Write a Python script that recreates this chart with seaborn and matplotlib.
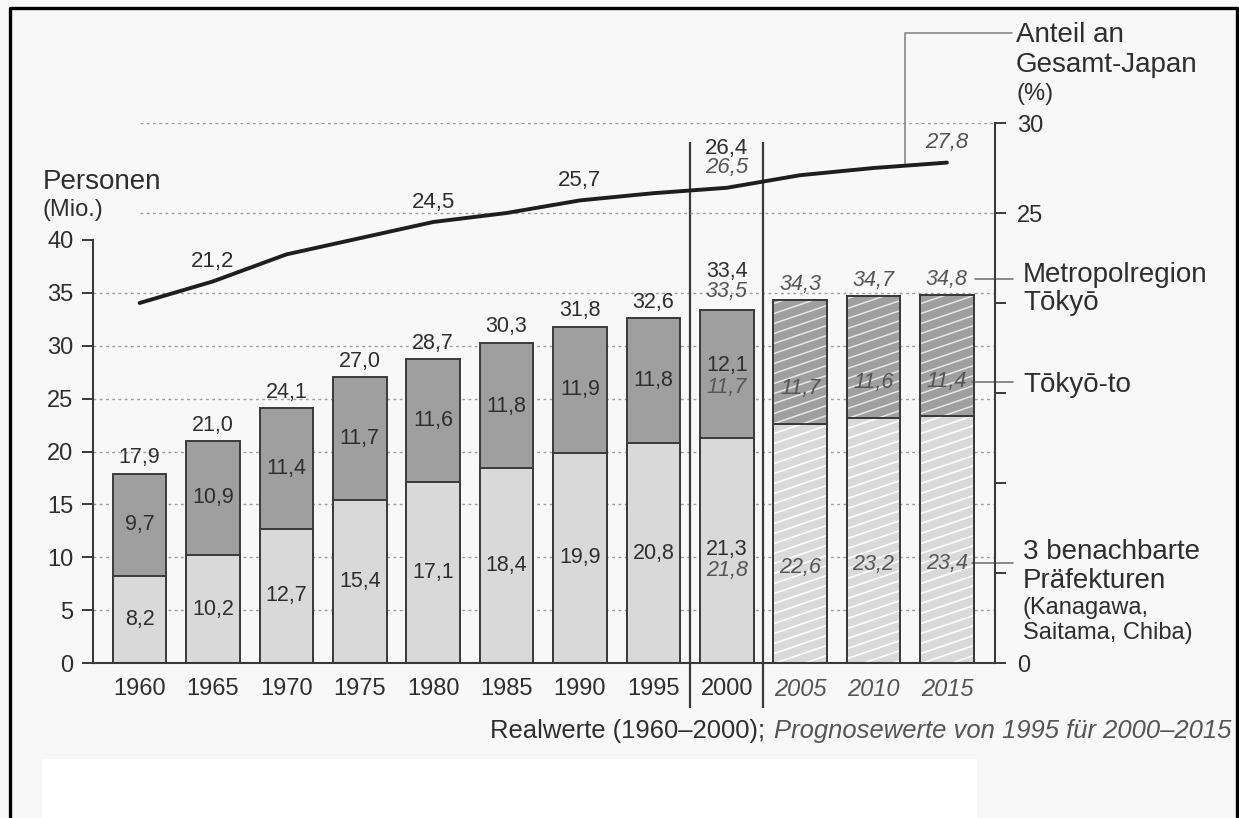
import matplotlib
matplotlib.use('Agg')
import matplotlib.pyplot as plt
import seaborn as sns
import pandas as pd
import numpy as np
from matplotlib.patches import Rectangle
from matplotlib.lines import Line2D
from matplotlib.collections import LineCollection

# ---------------- data ----------------
years = ['1960', '1965', '1970', '1975', '1980', '1985', '1990', '1995',
         '2000', '2005', '2010', '2015']
neighbors = [8.2, 10.2, 12.7, 15.4, 17.1, 18.4, 19.9, 20.8, 21.3, 22.6, 23.2, 23.4]
tokyo_to = [9.7, 10.9, 11.4, 11.7, 11.6, 11.8, 11.9, 11.8, 12.1, 11.7, 11.6, 11.4]
totals = [17.9, 21.0, 24.1, 27.0, 28.7, 30.3, 31.8, 32.6, 33.4, 34.3, 34.7, 34.8]
share = [20.0, 21.2, 22.7, 23.6, 24.5, 25.0, 25.7, 26.1, 26.4, 27.1, 27.5, 27.8]
forecast_2000_neighbors = 21.8
forecast_2000_tokyo_to = 11.7
forecast_2000_total = 33.5
forecast_2000_share = 26.5
share_labelled = [1, 4, 6, 8, 11]
first_forecast = 9   # 2005 onwards are forecast values
idx_2000 = 8

left_ticks = [0, 5, 10, 15, 20, 25, 30, 35, 40]
right_ticks = [0, 5, 10, 15, 20, 25, 30]
right_ticklabels = ['0', '', '', '', '', '25', '30']


def fmt(v):
    return f"{v:.1f}".replace('.', ',')


# ---------------- style ----------------
W, H = 1239, 818
BG = '#f8f8f8'
DARK = '#9f9f9f'
LIGHT = '#d9d9d9'
EDGE = '#3a3a3a'
TXT = '#2e2e2e'
ITC = '#555555'
GRID = '#9c9c9c'

sns.set_theme(style='white')
plt.rcParams['font.family'] = ['Liberation Sans', 'DejaVu Sans']
plt.rcParams['text.color'] = TXT

fig = plt.figure(figsize=(W / 100, H / 100), dpi=100, facecolor=BG)


def fx(px):
    return px / W


def fy(py):
    return 1 - py / H


# white box at the bottom and page border
fig.add_artist(Rectangle((fx(42), 0), (977 - 42) / W, (818 - 759) / H,
                         transform=fig.transFigure, facecolor='white',
                         edgecolor='none', zorder=0))
fig.add_artist(Line2D([fx(10), fx(10), fx(1237), fx(1237)],
                      [0, fy(8), fy(8), 0], transform=fig.transFigure,
                      color='black', lw=2.4, zorder=10))

ax = fig.add_axes([fx(93), fy(663), (995 - 93) / W, (663 - 123) / H])
ax.set_facecolor('none')
XMIN, XMAX = -0.635, 11.655
YTOP = (663 - 123) / 10.575

df = pd.DataFrame({'year': years, 'total': totals, 'neighbors': neighbors})

# gridlines (left scale)
ax.hlines([5, 10, 15, 20, 25, 30, 35], XMIN, XMAX, colors=GRID,
          linestyles=(0, (2, 2.5)), lw=1.0, zorder=1)

n0 = len(ax.patches)
sns.barplot(data=df, x='year', y='total', color=DARK, saturation=1, width=0.73,
            edgecolor=EDGE, linewidth=1.4, errorbar=None, ax=ax, zorder=2)
total_patches = ax.patches[n0:]
n1 = len(ax.patches)
sns.barplot(data=df, x='year', y='neighbors', color=LIGHT, saturation=1, width=0.73,
            edgecolor=EDGE, linewidth=1.4, errorbar=None, ax=ax, zorder=2)
neigh_patches = ax.patches[n1:]

# white hatching for the forecast bars
ax_w_px, ax_h_px = 995 - 93, 663 - 123
slope = 0.34 * ax_w_px / ax_h_px
step = 10.0 / ax_h_px
segs = [[(0, y0), (1, y0 + slope)] for y0 in np.arange(-0.8, 1.0, step)]
for plist in (total_patches, neigh_patches):
    for p in plist[first_forecast:]:
        lc = LineCollection(segs, colors='white', linewidths=1.1, alpha=0.75,
                            transform=ax.transAxes, zorder=2.5)
        ax.add_collection(lc)
        lc.set_clip_path(p)
        ax.add_patch(Rectangle(p.get_xy(), p.get_width(), p.get_height(),
                               fill=False, edgecolor=EDGE, lw=1.4, zorder=3))

ax.set_xlim(XMIN, XMAX)
ax.set_ylim(0, YTOP)
ax.set_xlabel('')
ax.set_ylabel('')

for s in ['top', 'right']:
    ax.spines[s].set_visible(False)
for s in ['left', 'bottom']:
    ax.spines[s].set_color(EDGE)
    ax.spines[s].set_linewidth(1.5)
ax.spines['left'].set_bounds(0, 40)

ax.set_yticks(left_ticks)
ax.set_yticklabels([str(t) for t in left_ticks])
ax.tick_params(axis='y', left=True, direction='out', length=8, width=1.4,
               color=EDGE, labelsize=17, labelcolor=TXT, pad=6)
ax.set_xticks(range(len(years)))
ax.set_xticklabels(years)
ax.tick_params(axis='x', bottom=False, length=0, labelsize=17,
               labelcolor=TXT, pad=11)
for i, lbl in enumerate(ax.get_xticklabels()):
    if i >= first_forecast:
        lbl.set_fontstyle('italic')
        lbl.set_color(ITC)

# separators between real / forecast values
ax.vlines([idx_2000 - 0.5, idx_2000 + 0.5], -4.26, 49.3, colors=EDGE, lw=1.6,
          clip_on=False, zorder=4)

# bar value labels
VS = 15.5
for i in range(len(years)):
    fc = i >= first_forecast
    st = 'italic' if fc else 'normal'
    col = ITC if fc else TXT
    mid_t = neighbors[i] + tokyo_to[i] / 2
    mid_n = neighbors[i] / 2
    if i == idx_2000:
        ax.text(i, totals[i] + 3.6, fmt(totals[i]), ha='center', va='center',
                fontsize=VS, color=TXT, zorder=5)
        ax.text(i, totals[i] + 1.7, fmt(forecast_2000_total), ha='center',
                va='center', fontsize=VS, color=ITC, style='italic', zorder=5)
        ax.text(i, mid_t + 0.75, fmt(tokyo_to[i]), ha='center', va='center',
                fontsize=VS, color=TXT, zorder=5)
        ax.text(i, mid_t - 1.3, fmt(forecast_2000_tokyo_to), ha='center',
                va='center', fontsize=VS, color=ITC, style='italic', zorder=5)
        ax.text(i, mid_n + 0.1, fmt(neighbors[i]), ha='center', va='center',
                fontsize=VS, color=TXT, zorder=5)
        ax.text(i, mid_n - 1.9, fmt(forecast_2000_neighbors), ha='center',
                va='center', fontsize=VS, color=ITC, style='italic', zorder=5)
        continue
    off_t = -2.5 if fc else 0.0
    off_n = -2.3 if fc else 0.0
    ax.text(i, totals[i] + 1.5, fmt(totals[i]), ha='center', va='center',
            fontsize=VS, color=col, style=st, zorder=5)
    ax.text(i, mid_t + off_t, fmt(tokyo_to[i]), ha='center', va='center',
            fontsize=VS, color=col, style=st, zorder=5)
    ax.text(i, mid_n + off_n, fmt(neighbors[i]), ha='center', va='center',
            fontsize=VS, color=col, style=st, zorder=5)

# leaders to right-hand labels (left scale)
ax.plot([11.38, 11.9], [36.3, 36.3], color='#777777', lw=1.2, clip_on=False)
ax.plot([11.34, 11.9], [26.57, 26.57], color='#777777', lw=1.2, clip_on=False)
ax.plot([11.34, 11.9], [9.46, 9.46], color='#777777', lw=1.2, clip_on=False)

# ---------------- share line (right scale) ----------------
ax2 = ax.twinx()
ax2.set_facecolor('none')
ax2.hlines([25, 30], 0, XMAX, colors=GRID, linestyles=(0, (2, 2.5)), lw=1.0,
           zorder=1)
sns.lineplot(x=np.arange(len(years)), y=share, ax=ax2, color='#1e1e1e',
             lw=2.8, zorder=6)
ax2.set_ylim(0, 30)
ax.set_xlim(XMIN, XMAX)
for s in ['top', 'left', 'bottom']:
    ax2.spines[s].set_visible(False)
ax2.spines['right'].set_color(EDGE)
ax2.spines['right'].set_linewidth(1.5)
ax2.set_yticks(right_ticks)
ax2.set_yticklabels(right_ticklabels)
ax2.tick_params(axis='y', right=True, direction='out', length=8, width=1.4,
                color=EDGE, labelsize=17, labelcolor=TXT, pad=8)
ax2.set_ylabel('')
ax2.set_xlabel('')

LS = 16
for i in share_labelled:
    fc = i >= first_forecast
    if i == idx_2000:
        ax2.text(i, share[i] + 2.2, fmt(share[i]), ha='center', va='center',
                 fontsize=LS, color=TXT, zorder=7)
        ax2.text(i, share[i] + 1.1, fmt(forecast_2000_share), ha='center',
                 va='center', fontsize=LS, color=ITC, style='italic', zorder=7)
        continue
    ax2.text(i, share[i] + 1.1, fmt(share[i]), ha='center', va='center',
             fontsize=LS, color=ITC if fc else TXT,
             style='italic' if fc else 'normal', zorder=7)

ax2.plot([10.43, 10.43, 11.88], [27.7, 35.0, 35.0], color='#888888', lw=1.2,
         clip_on=False)

# ---------------- free texts ----------------
def ftxt(px, py, s, size, **kw):
    fig.text(fx(px), fy(py), s, fontsize=size, ha='left', va='center',
             color=TXT, **kw)


ftxt(43, 182, 'Personen', 20)
ftxt(43, 210, '(Mio.)', 17)
ftxt(1016, 35, 'Anteil an', 20)
ftxt(1016, 65, 'Gesamt-Japan', 20)
ftxt(1016, 94, '(%)', 17)
ftxt(1023, 275, 'Metropolregion', 20)
ftxt(1023, 303, 'Tōkyō', 20)
ftxt(1023, 385, 'Tōkyō-to', 20)
ftxt(1023, 552, '3 benachbarte', 20)
ftxt(1023, 581, 'Präfekturen', 20)
ftxt(1023, 608, '(Kanagawa,', 17)
ftxt(1023, 633, 'Saitama, Chiba)', 17)

# bottom note fitted to its width in the reference
t1 = fig.text(fx(490), fy(731), 'Realwerte (1960–2000); ', fontsize=15,
              ha='left', va='center', color=TXT)
t2 = fig.text(fx(700), fy(731), 'Prognosewerte von 1995 für 2000–2015',
              fontsize=15, ha='left', va='center', color=ITC, style='italic')
fig.canvas.draw()
r = fig.canvas.get_renderer()
w1 = t1.get_window_extent(r).width
w2 = t2.get_window_extent(r).width
scale = (1233 - 490) / (w1 + w2)
t1.set_fontsize(15 * scale)
t2.set_fontsize(15 * scale)
t2.set_x(fx(490 + w1 * scale))

fig.savefig('out.png', dpi=100, facecolor=BG)
